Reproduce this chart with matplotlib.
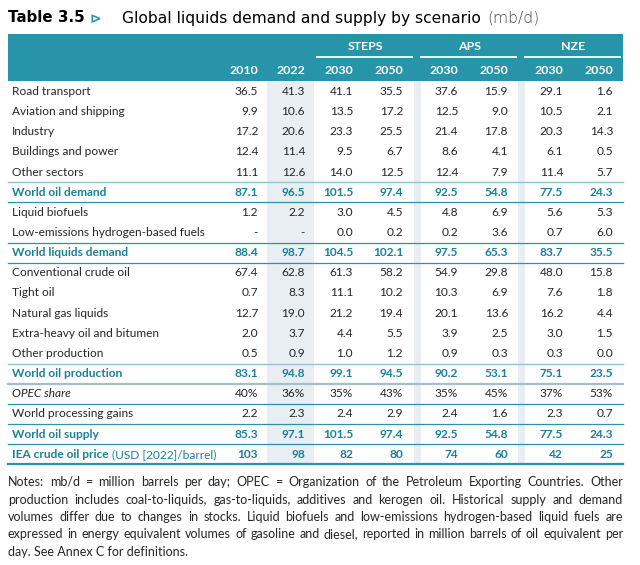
import matplotlib
matplotlib.use('Agg')
import matplotlib.pyplot as plt
from matplotlib.patches import Rectangle

# colores
TEAL = '#2794aa'
TEAL_TXT = '#1a7f98'
TXT = '#262626'
SOMBRA = '#e9eef3'
LINEA_CLARA = '#93c2d0'
FUENTE = 'Lato'

# datos de la tabla
etiquetas = [
    'Road transport', 'Aviation and shipping', 'Industry', 'Buildings and power',
    'Other sectors', 'World oil demand', 'Liquid biofuels',
    'Low-emissions hydrogen-based fuels', 'World liquids demand',
    'Conventional crude oil', 'Tight oil', 'Natural gas liquids',
    'Extra-heavy oil and bitumen', 'Other production', 'World oil production',
    'OPEC share', 'World processing gains', 'World oil supply', 'IEA crude oil price',
]
anio_2010 = ['36.5', '9.9', '17.2', '12.4', '11.1', '87.1', '1.2', '-', '88.4', '67.4',
             '0.7', '12.7', '2.0', '0.5', '83.1', '40%', '2.2', '85.3', '103']
anio_2022 = ['41.3', '10.6', '20.6', '11.4', '12.6', '96.5', '2.2', '-', '98.7', '62.8',
             '8.3', '19.0', '3.7', '0.9', '94.8', '36%', '2.3', '97.1', '98']
steps_2030 = ['41.1', '13.5', '23.3', '9.5', '14.0', '101.5', '3.0', '0.0', '104.5', '61.3',
              '11.1', '21.2', '4.4', '1.0', '99.1', '35%', '2.4', '101.5', '82']
steps_2050 = ['35.5', '17.2', '25.5', '6.7', '12.5', '97.4', '4.5', '0.2', '102.1', '58.2',
              '10.2', '19.4', '5.5', '1.2', '94.5', '43%', '2.9', '97.4', '80']
aps_2030 = ['37.6', '12.5', '21.4', '8.6', '12.4', '92.5', '4.8', '0.2', '97.5', '54.9',
            '10.3', '20.1', '3.9', '0.9', '90.2', '35%', '2.4', '92.5', '74']
aps_2050 = ['15.9', '9.0', '17.8', '4.1', '7.9', '54.8', '6.9', '3.6', '65.3', '29.8',
            '6.9', '13.6', '2.5', '0.3', '53.1', '45%', '1.6', '54.8', '60']
nze_2030 = ['29.1', '10.5', '20.3', '6.1', '11.4', '77.5', '5.6', '0.7', '83.7', '48.0',
            '7.6', '16.2', '3.0', '0.3', '75.1', '37%', '2.3', '77.5', '42']
nze_2050 = ['1.6', '2.1', '14.3', '0.5', '5.7', '24.3', '5.3', '6.0', '35.5', '15.8',
            '1.8', '4.4', '1.5', '0.0', '23.5', '53%', '0.7', '24.3', '25']
columnas = [anio_2010, anio_2022, steps_2030, steps_2050, aps_2030, aps_2050, nze_2030, nze_2050]
anios = ['2010', '2022', '2030', '2050', '2030', '2050', '2030', '2050']
escenarios = ['STEPS', 'APS', 'NZE']

filas_total = {5, 8, 14, 17, 18}
filas_italica = {15}
# separadores: fila despues de la cual va la linea -> estilo
separadores = {4: 'clara', 5: 'oscura', 7: 'oscura', 8: 'oscura', 13: 'clara',
               14: 'gris', 15: 'oscura', 16: 'oscura', 17: 'oscura', 18: 'fondo'}

notas = [
    'Notes: mb/d = million barrels per day; OPEC = Organization of the Petroleum Exporting Countries. Other',
    'production includes coal-to-liquids, gas-to-liquids, additives and kerogen oil. Historical supply and demand',
    'volumes differ due to changes in stocks. Liquid biofuels and low-emissions hydrogen-based liquid fuels are',
    'expressed in energy equivalent volumes of gasoline and diesel, reported in million barrels of oil equivalent per',
    'day. See Annex C for definitions.',
]

# geometria en pixeles
X0, X1 = 8, 623
COL_X = [258, 305, 353, 403, 458, 508, 563, 613]
Y_HEAD0, Y_HEAD1 = 34, 81
Y_FILA0 = 91.5
PASO = 20.15
FS = 8.6
FS_NOTAS = 9.0


def main():
    fig = plt.figure(figsize=(6.4, 5.65), dpi=100)
    ax = fig.add_axes([0, 0, 1, 1])
    ax.set_xlim(0, 640)
    ax.set_ylim(565, 0)
    ax.axis('off')
    r = fig.canvas.get_renderer()

    def ancho(t):
        bb = t.get_window_extent(renderer=r)
        return bb.width

    # titulo
    t = ax.text(X0, 18, 'Table 3.5', fontsize=10.8, fontweight='bold', family='DejaVu Sans',
                va='center', ha='left', color='black')
    ax.text(X0 + ancho(t) + 5, 18.5, '\u22b3', fontsize=10, color=TEAL, va='center', ha='left',
            family='DejaVu Sans', fontweight='bold')
    t = ax.text(122, 18, 'Global liquids demand and supply by scenario', fontsize=11.2,
                family='DejaVu Sans', va='center', ha='left', color='black')
    ax.text(122 + ancho(t) + 6, 18, '(mb/d)', fontsize=11.2, family='DejaVu Sans',
            fontweight='light', va='center', ha='left', color='#444444')

    y_fin = Y_FILA0 + PASO * (len(etiquetas) - 1) + PASO / 2

    # cabecera
    ax.add_patch(Rectangle((X0, Y_HEAD0), X1 - X0, Y_HEAD1 - Y_HEAD0, color=TEAL, lw=0))
    # sombreado de 2022 y franjas entre escenarios
    ax.add_patch(Rectangle((267, Y_HEAD1), 47, y_fin - Y_HEAD1, color=SOMBRA, lw=0))
    for xa in (414, 518):
        ax.add_patch(Rectangle((xa, Y_HEAD1), 7, y_fin - Y_HEAD1, color=SOMBRA, lw=0))

    for x, a in zip(COL_X, anios):
        ax.text(x, 70, a, fontsize=FS + 0.3, fontweight='bold', color='white', ha='right',
                va='center', family=FUENTE)
    tramos = [(316, 413), (420, 517), (524, 621)]
    for (xa, xb), nombre in zip(tramos, escenarios):
        ax.text((xa + xb) / 2 + 1, 46.5, nombre, fontsize=FS + 0.3, fontweight='bold',
                color='white', ha='center', va='center', family=FUENTE)
        ax.plot([xa, xb], [57, 57], color='white', lw=1.3, solid_capstyle='butt')

    # filas
    for i, etq in enumerate(etiquetas):
        y = Y_FILA0 + PASO * i
        total = i in filas_total
        color = TEAL_TXT if total else TXT
        peso = 'bold' if total else 'normal'
        estilo = 'italic' if i in filas_italica else 'normal'
        t = ax.text(12, y, etq, fontsize=FS, color=color, fontweight=peso, fontstyle=estilo,
                    ha='left', va='center', family=FUENTE)
        if etq == 'IEA crude oil price':
            ax.text(12 + ancho(t) + 3, y, '(USD [2022]/barrel)', fontsize=FS, color=TEAL_TXT,
                    ha='left', va='center', family=FUENTE)
        for x, col in zip(COL_X, columnas):
            ax.text(x, y, col[i], fontsize=FS, color=color, fontweight=peso, ha='right',
                    va='center', family=FUENTE)

    for i, tipo in separadores.items():
        y = Y_FILA0 + PASO * i + PASO / 2
        if tipo == 'clara':
            ax.plot([X0, X1], [y, y], color=LINEA_CLARA, lw=1.0)
        elif tipo == 'gris':
            ax.plot([X0, X1], [y, y], color='#a3bfcb', lw=1.6)
        elif tipo == 'oscura':
            ax.plot([X0, X1], [y, y], color=TEAL, lw=0.9)
        else:
            ax.plot([X0, X1], [y, y], color=TEAL, lw=1.6)

    # notas justificadas (todas menos la ultima)
    y = 482
    for k, linea in enumerate(notas):
        palabras = linea.split(' ')
        if k == len(notas) - 1:
            ax.text(X0, y, linea, fontsize=FS_NOTAS, color=TXT, ha='left', va='center',
                    family=FUENTE)
        else:
            objs = [ax.text(0, y, p, fontsize=FS_NOTAS, color=TXT, ha='left', va='center',
                            family=FUENTE) for p in palabras]
            anchos = [ancho(o) for o in objs]
            hueco = (X1 - X0 - sum(anchos)) / (len(palabras) - 1)
            x = X0
            for o, w in zip(objs, anchos):
                o.set_x(x)
                x += w + hueco
        y += 17.5

    fig.savefig('out.png', dpi=100, facecolor='white')


if __name__ == '__main__':
    main()
